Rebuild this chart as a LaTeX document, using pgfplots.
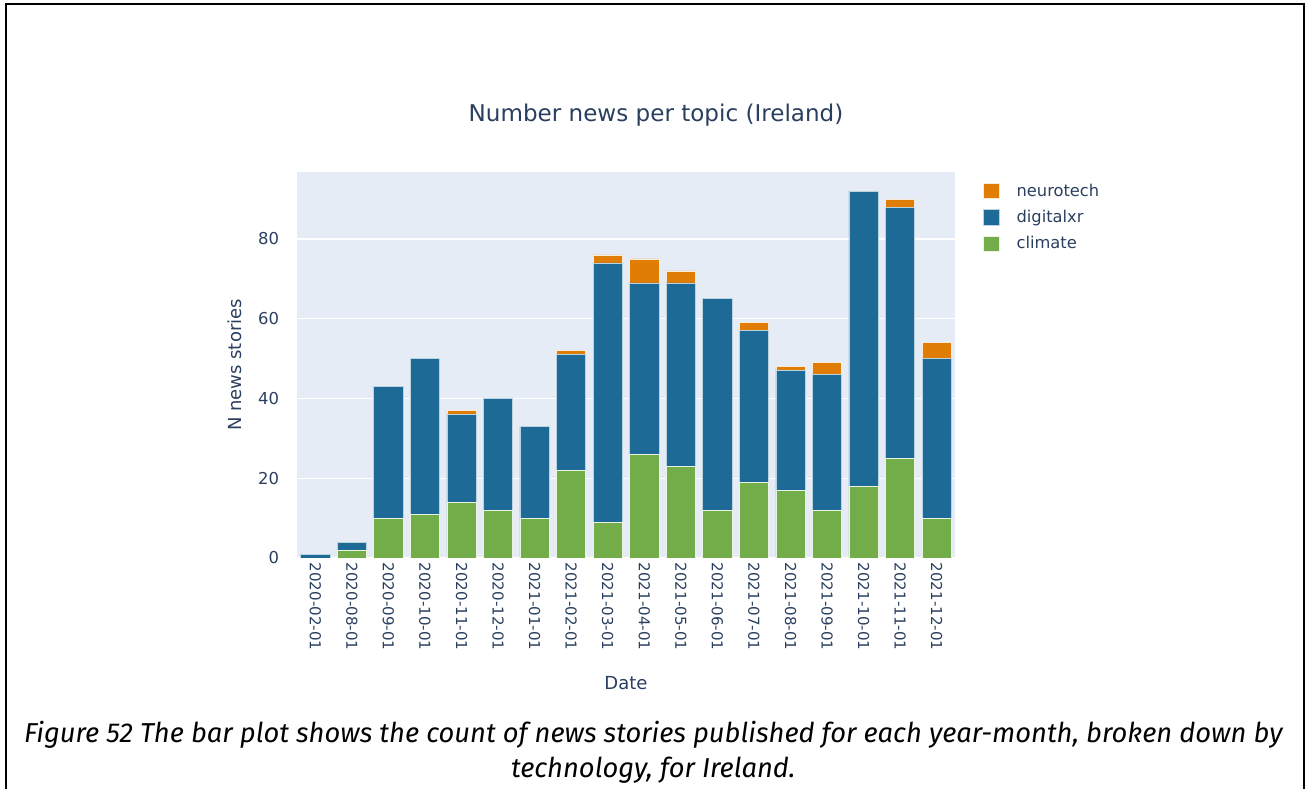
\documentclass[border=0pt]{standalone}
\usepackage{fontspec}
\setmainfont{DejaVu Sans}
\newfontfamily\capfont{Fira Sans}
\usepackage{pgfplots}
\pgfplotsset{compat=1.18}
\definecolor{neuro}{RGB}{224,125,4}
\definecolor{dxr}{RGB}{30,106,150}
\definecolor{clim}{RGB}{114,173,74}
\definecolor{plotbg}{RGB}{229,236,246}
\definecolor{ptext}{RGB}{42,63,95}
\pgfplotstableread{
x climate digitalxr neurotech
0 0 1 0
1 2 2 0
2 10 33 0
3 11 39 0
4 14 22 1
5 12 28 0
6 10 23 0
7 22 29 1
8 9 65 2
9 26 43 6
10 23 46 3
11 12 53 0
12 19 38 2
13 17 30 1
14 12 34 3
15 18 74 0
16 25 63 2
17 10 40 4
}\datatable
\begin{document}
\begin{tikzpicture}
\useasboundingbox (0,0) rectangle (979.5pt,591.75pt);
\draw[line width=1.6pt] (4.2pt,0) -- (4.2pt,588.6pt) -- (977.9pt,588.6pt) -- (977.9pt,0);
\begin{axis}[
  at={(222.75pt,173.25pt)}, anchor=south west,
  scale only axis, width=493.5pt, height=289.5pt,
  ybar stacked, bar width=0.8,
  xmin=-0.5, xmax=17.5, ymin=0, ymax=96.8,
  axis background/.style={fill=plotbg},
  axis line style={draw=none},
  tick style={draw=none},
  ymajorgrids, grid style={white, line width=1pt},
  ytick={0,20,40,60,80},
  xtick={0,...,17},
  xticklabels={2020-02-01,2020-08-01,2020-09-01,2020-10-01,2020-11-01,2020-12-01,2021-01-01,2021-02-01,2021-03-01,2021-04-01,2021-05-01,2021-06-01,2021-07-01,2021-08-01,2021-09-01,2021-10-01,2021-11-01,2021-12-01},
  xticklabel style={rotate=-90, anchor=west, font=\fontsize{11.3}{13}\selectfont, text=ptext},
  yticklabel style={font=\fontsize{12.3}{14}\selectfont, text=ptext, xshift=-10pt},
  /pgf/number format/assume math mode=true,
  title={Number news per topic (Ireland)},
  title style={at={(0.5,1)}, anchor=center, yshift=36.75pt, xshift=22.5pt, font=\fontsize{17.3}{20}\selectfont, text=ptext},
  xlabel={Date},
  xlabel style={at={(0.5,0)}, anchor=center, yshift=-93.75pt, font=\fontsize{13.5}{16}\selectfont, text=ptext},
  ylabel={N news stories},
  ylabel style={at={(-0.0942,0.5)}, anchor=center, font=\fontsize{13.5}{16}\selectfont, text=ptext},
  legend style={at={(1.0365,0.984)}, anchor=north west, draw=none, fill=none,
    font=\fontsize{12.2}{14}\selectfont, text=ptext, row sep=5pt,
    /tikz/every even column/.append style={column sep=6pt}},
  legend cell align=left,
  reverse legend,
  legend image code/.code={\fill[#1] (0pt,-5.8pt) rectangle (12pt,5.8pt);},
]
\pgfplotsset{every axis legend/.append style={nodes={inner xsep=0pt}}}
\addplot[fill=clim, draw=white!85!clim, line width=0.5pt] table[x=x,y=climate]{\datatable};
\addlegendentry{\hspace{12.5pt}climate}
\addplot[fill=dxr, draw=white!70!dxr, line width=0.5pt] table[x=x,y=digitalxr]{\datatable};
\addlegendentry{\hspace{12.5pt}digitalxr}
\addplot[fill=neuro, draw=white!85!neuro, line width=0.5pt] table[x=x,y=neurotech]{\datatable};
\addlegendentry{\hspace{12.5pt}neurotech}
\end{axis}
\node[font=\capfont\itshape\fontsize{20.5}{24}\selectfont, anchor=center] at (490pt,40.5pt) {Figure 52 The bar plot shows the count of news stories published for each year-month, broken down by};
\node[font=\capfont\itshape\fontsize{20.5}{24}\selectfont, anchor=center] at (490pt,14.25pt) {technology, for Ireland.};
\end{tikzpicture}
\end{document}
